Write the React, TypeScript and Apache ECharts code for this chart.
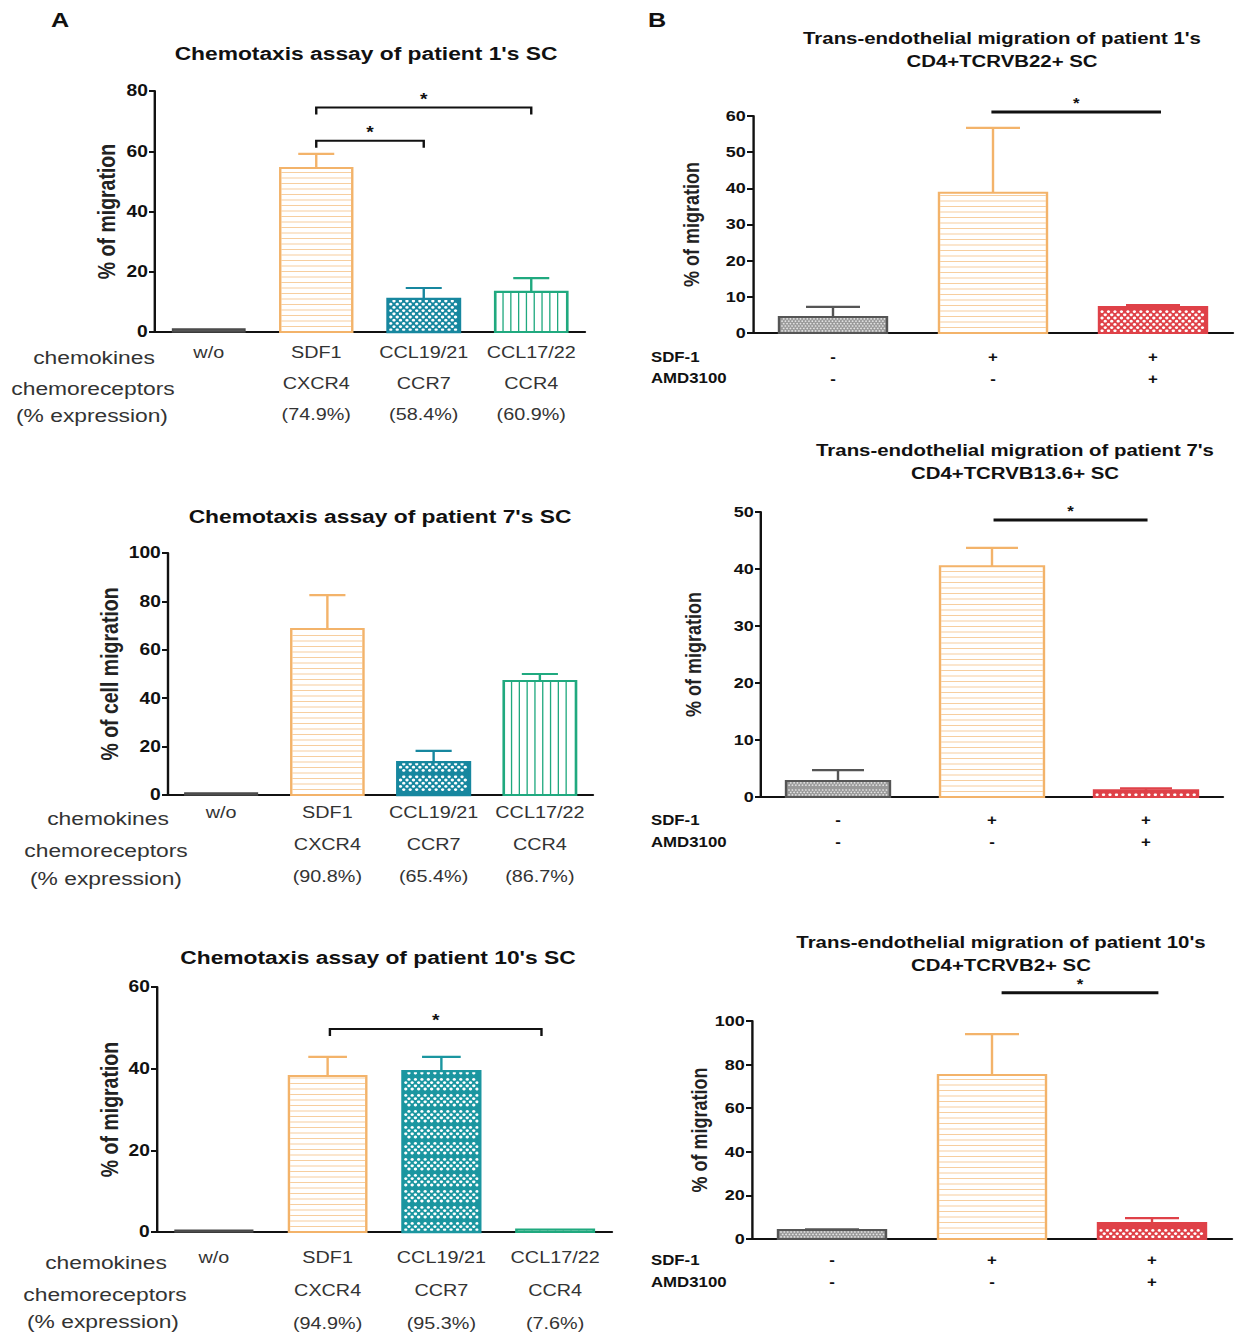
import React, { useEffect, useRef } from "react";
import * as echarts from "echarts";

// The original figure is horizontally stretched; we draw in a narrower space and stretch with CSS.
const S = 1.2;
const X = (v: number) => v / S;
const FONT = '"Liberation Sans", Arial, Helvetica, sans-serif';

// ---------- Panel A data ----------
const chemokines = ["w/o", "SDF1", "CCL19/21", "CCL17/22"];
const receptors = ["", "CXCR4", "CCR7", "CCR4"];
const exprA1 = ["", "(74.9%)", "(58.4%)", "(60.9%)"];
const exprA2 = ["", "(90.8%)", "(65.4%)", "(86.7%)"];
const exprA3 = ["", "(94.9%)", "(95.3%)", "(7.6%)"];
const meanA1 = [1.0, 54.4, 11.0, 13.3];
const errA1 = [0, 4.7, 3.6, 4.6];
const meanA2 = [0.8, 68.6, 13.6, 47.1];
const errA2 = [0, 14.0, 4.6, 2.9];
const meanA3 = [0.4, 38.2, 39.4, 0.6];
const errA3 = [0, 4.7, 3.5, 0];
// [from category, to category, height, shift of left end, shift of right end (fractions of a band)]
const sigA1 = [[1, 2, 63.5, 0, 0], [1, 3, 74.5, 0, 0]];
const sigA3 = [[1, 3, 49.7, 0.02, -0.12]];

// ---------- Panel B data ----------
const bCats = ["c1", "c2", "c3"];
const sdf1Row = ["-", "+", "+"];
const amdRow = ["-", "-", "+"];
const meanB1 = [4.4, 38.8, 7.2];
const errB1 = [2.8, 17.9, 0.5];
const meanB2 = [2.8, 40.5, 1.2];
const errB2 = [1.9, 3.2, 0.3];
const meanB3 = [4.1, 75.2, 7.3];
const errB3 = [0.3, 18.8, 2.3];
const sigB1 = [[1, 2, 61.1, -0.01, 0.05]];
const sigB2 = [[1, 2, 48.6, 0.01, 0.01]];
const sigB3 = [[1, 2, 113, 0.06, 0.04]];

const stylesA = ["wo", "orange", "teal", "green"];
const stylesA3 = ["wo", "orange", "teal2", "green"];
const stylesB = ["grey", "orange", "red"];

const STY: any = {
  wo: { stroke: "#4a4a4a", fill: "#555", pat: "none", pc: "", lw: 1.5 },
  orange: { stroke: "#F3B36A", fill: "#fff", pat: "h", pc: "#F7CE9E", lw: 2 },
  teal: { stroke: "#17879F", fill: "#17879F", pat: "dots", pc: "#fff", lw: 2.4 },
  teal2: { stroke: "#1B96A0", fill: "#1B96A0", pat: "dots", pc: "#fff", lw: 2.4 },
  green: { stroke: "#20A97F", fill: "#fff", pat: "v", pc: "#20A97F", lw: 2.2 },
  grey: { stroke: "#555", fill: "#9a9a9a", pat: "fine", pc: "#e4e4e4", lw: 2 },
  red: { stroke: "#DF4148", fill: "#DF4148", pat: "dots", pc: "#fff", lw: 2 },
};

function patternEls(st: any, x: number, y: number, w: number, h: number) {
  const els: any[] = [];
  if (st.pat === "h") {
    for (let yy = y + h - 5.5; yy > y + 1.5; yy -= 5.5) {
      els.push({ type: "line", shape: { x1: x + 1, y1: yy, x2: x + w - 1, y2: yy }, style: { stroke: st.pc, lineWidth: 1 } });
    }
  } else if (st.pat === "v") {
    for (let xx = x + 6.5; xx < x + w - 2; xx += 6.5) {
      els.push({ type: "line", shape: { x1: xx, y1: y + 1, x2: xx, y2: y + h }, style: { stroke: st.pc, lineWidth: 1.1 } });
    }
  } else if (st.pat === "dots" || st.pat === "fine") {
    const dx = st.pat === "dots" ? 5.4 : 2.8;
    const dy = st.pat === "dots" ? 3.2 : 2.4;
    const r = st.pat === "dots" ? 1.4 : 0.75;
    let row = 0;
    for (let yy = y + h - 2.2; yy > y + 1.6; yy -= dy, row++) {
      const off = row % 2 ? dx / 2 : 0;
      for (let xx = x + 2.5 + off; xx < x + w - 1.8; xx += dx) {
        els.push({ type: "circle", shape: { cx: xx, cy: yy, r }, style: { fill: st.pc } });
      }
    }
  }
  return els;
}

function barRender(styles: string[], frac: number) {
  return (params: any, api: any) => {
    const i = api.value(0);
    const v = api.value(1);
    const e = api.value(2);
    const st = STY[styles[params.dataIndex]];
    const p0 = api.coord([i, 0]);
    const p1 = api.coord([i, v]);
    const band = api.size([1, 0])[0];
    const w = band * frac;
    const h = Math.max(p0[1] - p1[1], 1.5);
    const x = p0[0] - w / 2;
    const y = p0[1] - h;
    const children: any[] = [];
    children.push({ type: "rect", shape: { x, y, width: w, height: h }, style: { fill: st.fill } });
    patternEls(st, x, y, w, h).forEach((el) => children.push(el));
    children.push({ type: "rect", shape: { x, y, width: w, height: h }, style: { fill: "none", stroke: st.stroke, lineWidth: st.lw } });
    if (e > 0) {
      const pe = api.coord([i, v + e]);
      children.push({ type: "line", shape: { x1: p0[0], y1: y, x2: p0[0], y2: pe[1] }, style: { stroke: st.stroke, lineWidth: 2 } });
      children.push({ type: "line", shape: { x1: p0[0] - w / 4, y1: pe[1], x2: p0[0] + w / 4, y2: pe[1] }, style: { stroke: st.stroke, lineWidth: 2.2 } });
    }
    return { type: "group", children };
  };
}

function sigRender(kind: string) {
  return (params: any, api: any) => {
    const a = api.value(0);
    const b = api.value(1);
    const yv = api.value(2);
    const sa = api.value(3);
    const sb = api.value(4);
    const band = api.size([1, 0])[0];
    const p1 = api.coord([a, yv]);
    const p2 = api.coord([b, yv]);
    const xa = p1[0] + sa * band;
    const xb = p2[0] + sb * band;
    const yy = p1[1];
    const children: any[] = [];
    if (kind === "bracket") {
      children.push({
        type: "polyline",
        shape: { points: [[xa, yy + 7], [xa, yy], [xb, yy], [xb, yy + 7]] },
        style: { stroke: "#111", lineWidth: 2, fill: "none" },
      });
    } else {
      children.push({ type: "line", shape: { x1: xa, y1: yy, x2: xb, y2: yy }, style: { stroke: "#111", lineWidth: 3 } });
    }
    const fs = kind === "bracket" ? 16 : 14;
    children.push({
      type: "text",
      x: (xa + xb) / 2,
      y: yy - (kind === "bracket" ? 8 : 9),
      style: { text: "*", font: `bold ${fs}px ${FONT}`, fill: "#111", align: "center", verticalAlign: "middle", textAlign: "center", textVerticalAlign: "middle" },
    });
    return { type: "group", children };
  };
}

const gridsPx = [
  { left: 155, top: 91, width: 430, height: 241 },
  { left: 168, top: 553, width: 425, height: 242 },
  { left: 157, top: 987, width: 455, height: 245 },
  { left: 753, top: 116, width: 480, height: 217 },
  { left: 761, top: 512, width: 462, height: 285 },
  { left: 752, top: 1021, width: 480, height: 218 },
];

function txt(x: number, y: number, text: string, size: number, weight = "bold", align = "center", color = "#111") {
  return {
    type: "text",
    x: X(x),
    y,
    z: 10,
    style: { text, fill: color, font: `${weight} ${size}px ${FONT}`, align, verticalAlign: "middle", textAlign: align, textVerticalAlign: "middle" },
  };
}

function xAxisA(gi: number, expr: string[], lh: number, margin: number) {
  return {
    type: "category",
    gridIndex: gi,
    data: chemokines,
    axisLine: { lineStyle: { color: "#111", width: 2 } },
    axisTick: { alignWithLabel: true, length: 6, lineStyle: { color: "#111", width: 2 } },
    axisLabel: {
      interval: 0,
      margin,
      lineHeight: lh,
      fontSize: 16.5,
      color: "#333",
      fontFamily: FONT,
      formatter: (v: string, i: number) => [v, receptors[i], expr[i]].join("\n"),
    },
  };
}

function xAxisB(gi: number, margin: number) {
  return {
    type: "category",
    gridIndex: gi,
    data: bCats,
    axisLine: { lineStyle: { color: "#111", width: 2 } },
    axisTick: { alignWithLabel: true, length: 6, lineStyle: { color: "#111", width: 2 } },
    axisLabel: {
      interval: 0,
      margin,
      lineHeight: 22,
      fontSize: 14,
      fontWeight: "bold",
      color: "#111",
      fontFamily: FONT,
      formatter: (_v: string, i: number) => sdf1Row[i] + "\n" + amdRow[i],
    },
  };
}

function yAxis(gi: number, max: number, interval: number, name: string, gap: number, labelSize: number, nameSize: number) {
  return {
    type: "value",
    gridIndex: gi,
    min: 0,
    max,
    interval,
    name,
    nameLocation: "middle",
    nameGap: gap,
    nameTextStyle: { fontSize: nameSize, fontWeight: "bold", color: "#222", fontFamily: FONT },
    axisLine: { show: true, lineStyle: { color: "#111", width: 2 } },
    axisTick: { show: true, length: 5, lineStyle: { color: "#111", width: 2 } },
    splitLine: { show: false },
    axisLabel: { fontSize: labelSize, fontWeight: "bold", color: "#111", margin: 6, fontFamily: FONT },
  };
}

function barSeries(gi: number, means: number[], errs: number[], styles: string[], frac: number) {
  return {
    type: "custom",
    xAxisIndex: gi,
    yAxisIndex: gi,
    clip: false,
    dimensions: ["cat", "mean", "err"],
    encode: { x: 0, y: 1 },
    data: means.map((m, i) => [i, m, errs[i]]),
    renderItem: barRender(styles, frac),
    z: 3,
  };
}

function sigSeries(gi: number, sig: number[][], kind: string) {
  return {
    type: "custom",
    xAxisIndex: gi,
    yAxisIndex: gi,
    clip: false,
    dimensions: ["a", "b", "y", "sa", "sb"],
    encode: { x: 0, y: 2 },
    data: sig,
    renderItem: sigRender(kind),
    z: 4,
  };
}

export default function App() {
  const ref = useRef<HTMLDivElement>(null);
  useEffect(() => {
    if (!ref.current) return;
    const chart = echarts.init(ref.current, undefined, { renderer: "svg" });
    const option: any = {
      animation: false,
      backgroundColor: "#fff",
      textStyle: { fontFamily: FONT },
      grid: gridsPx.map((g) => ({
        left: X(g.left),
        top: g.top,
        width: X(g.width),
        height: g.height,
        containLabel: false,
        outerBoundsMode: "none",
      })),
      xAxis: [
        xAxisA(0, exprA1, 31, 5),
        xAxisA(1, exprA2, 32, 2),
        xAxisA(2, exprA3, 33, 9),
        xAxisB(3, 13),
        xAxisB(4, 12),
        xAxisB(5, 10),
      ],
      yAxis: [
        yAxis(0, 80, 20, "% of migration", 30, 16, 19.5),
        yAxis(1, 100, 20, "% of cell migration", 38, 16, 19.5),
        yAxis(2, 60, 20, "% of migration", 29, 16, 19.5),
        yAxis(3, 60, 10, "% of migration", 42, 15, 18),
        yAxis(4, 50, 10, "% of migration", 47, 15, 18),
        yAxis(5, 100, 20, "% of migration", 30, 15, 18),
      ],
      series: [
        barSeries(0, meanA1, errA1, stylesA, 0.67),
        barSeries(1, meanA2, errA2, stylesA, 0.68),
        barSeries(2, meanA3, errA3, stylesA3, 0.68),
        barSeries(3, meanB1, errB1, stylesB, 0.675),
        barSeries(4, meanB2, errB2, stylesB, 0.675),
        barSeries(5, meanB3, errB3, stylesB, 0.675),
        sigSeries(0, sigA1, "bracket"),
        sigSeries(2, sigA3, "bracket"),
        sigSeries(3, sigB1, "line"),
        sigSeries(4, sigB2, "line"),
        sigSeries(5, sigB3, "line"),
      ],
      graphic: [
        txt(60, 20, "A", 21),
        txt(657, 20, "B", 21),
        txt(366, 53, "Chemotaxis assay of patient 1's SC", 19),
        txt(380, 516, "Chemotaxis assay of patient 7's SC", 19),
        txt(378, 957, "Chemotaxis assay of patient 10's SC", 19),
        txt(1002, 38, "Trans-endothelial migration of patient 1's", 17),
        txt(1002, 61, "CD4+TCRVB22+ SC", 17),
        txt(1015, 450, "Trans-endothelial migration of patient 7's", 17),
        txt(1015, 473, "CD4+TCRVB13.6+ SC", 17),
        txt(1001, 942, "Trans-endothelial migration of patient 10's", 17),
        txt(1001, 965, "CD4+TCRVB2+ SC", 17),
        txt(94, 357, "chemokines", 19, "normal", "center", "#333"),
        txt(93, 388, "chemoreceptors", 19, "normal", "center", "#333"),
        txt(92, 415, "(% expression)", 19, "normal", "center", "#333"),
        txt(108, 818, "chemokines", 19, "normal", "center", "#333"),
        txt(106, 850, "chemoreceptors", 19, "normal", "center", "#333"),
        txt(106, 878, "(% expression)", 19, "normal", "center", "#333"),
        txt(106, 1262, "chemokines", 19, "normal", "center", "#333"),
        txt(105, 1294, "chemoreceptors", 19, "normal", "center", "#333"),
        txt(103, 1321, "(% expression)", 19, "normal", "center", "#333"),
        txt(651, 357, "SDF-1", 14, "bold", "left"),
        txt(651, 378, "AMD3100", 14, "bold", "left"),
        txt(651, 820, "SDF-1", 14, "bold", "left"),
        txt(651, 842, "AMD3100", 14, "bold", "left"),
        txt(651, 1260, "SDF-1", 14, "bold", "left"),
        txt(651, 1282, "AMD3100", 14, "bold", "left"),
      ],
    };
    chart.setOption(option);
    return () => chart.dispose();
  }, []);
  return (
    <div style={{ position: "absolute", left: 0, top: 0, width: 1237, height: 1334, overflow: "hidden", background: "#fff" }}>
      <div
        ref={ref}
        style={{ width: Math.floor(1237 / S), height: 1334, transform: `scaleX(${S})`, transformOrigin: "0 0" }}
      />
    </div>
  );
}
